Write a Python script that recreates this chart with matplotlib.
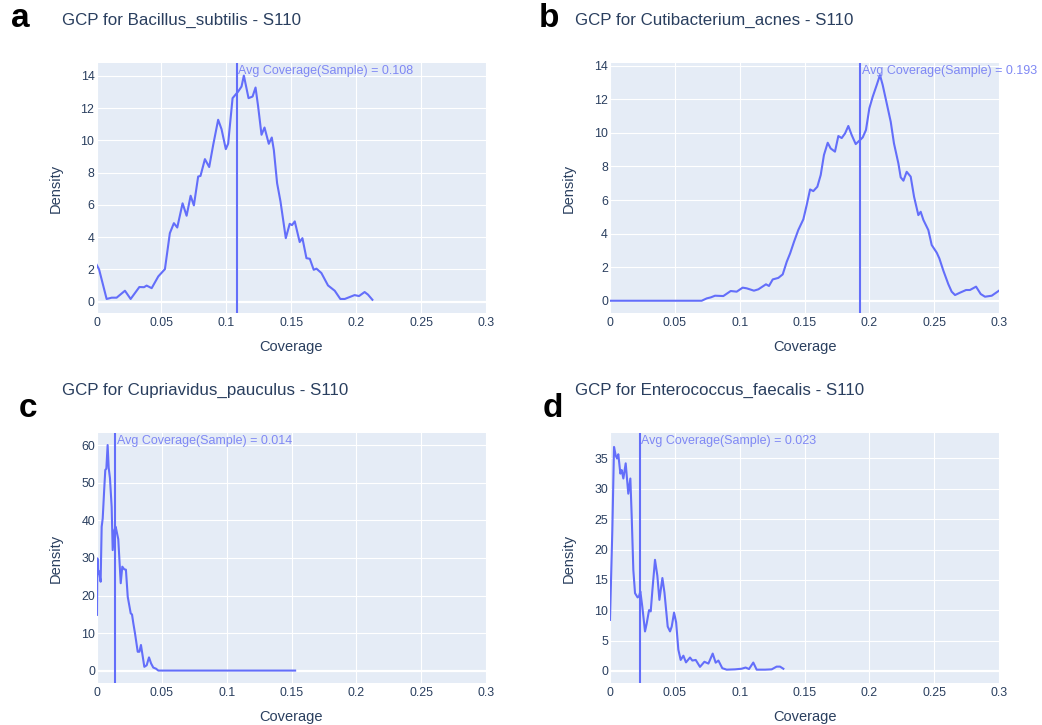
import matplotlib.pyplot as plt

W, H = 1042, 725
plt.rcParams['font.family'] = ['Liberation Sans', 'DejaVu Sans']

LINE = '#636efa'
BG = '#e5ecf6'
TXT = '#2a3f5f'
ANN = '#7f88f4'

# a - Bacillus_subtilis
bs_cov = [0, 0.002, 0.0078, 0.0117, 0.0155, 0.0219, 0.0263, 0.033, 0.0366, 0.0386,
          0.0425, 0.0476, 0.0527, 0.0565, 0.0596, 0.0622, 0.0663, 0.0694, 0.0725, 0.075,
          0.0783, 0.0801, 0.0835, 0.0868, 0.0899, 0.0937, 0.0963, 0.0996, 0.1014, 0.1048,
          0.1091, 0.1117, 0.1135, 0.1171, 0.1202, 0.1225, 0.1245, 0.1271, 0.1294, 0.1327,
          0.135, 0.1366, 0.1391, 0.1417, 0.1458, 0.1488, 0.1506, 0.1527, 0.1565, 0.1586,
          0.1617, 0.1643, 0.1673, 0.1694, 0.1732, 0.1783, 0.1835, 0.1878, 0.1912, 0.1988,
          0.2022, 0.2065, 0.2091, 0.2125]
bs_dens = [2.3, 2.0, 0.17, 0.25, 0.25, 0.68, 0.17, 0.91, 0.9, 1.0,
           0.84, 1.57, 2.02, 4.25, 4.87, 4.6, 6.1, 5.33, 6.57, 5.97,
           7.76, 7.8, 8.84, 8.35, 9.73, 11.28, 10.7, 9.46, 9.8, 12.62,
           13.03, 13.34, 14.02, 12.62, 12.72, 13.28, 12.1, 10.35, 10.8, 9.79,
           10.18, 9.4, 7.35, 6.22, 3.94, 4.83, 4.75, 4.98, 3.7, 3.94,
           2.7, 2.66, 1.98, 2.05, 1.78, 1.01, 0.68, 0.17, 0.17, 0.41,
           0.35, 0.6, 0.44, 0.12]
bs_avg = 0.108

# b - Cutibacterium_acnes
ca_cov = [0, 0.0707, 0.0746, 0.0777, 0.081, 0.0874, 0.0931, 0.0977, 0.1023, 0.1054,
          0.111, 0.1144, 0.1203, 0.1226, 0.1255, 0.1298, 0.1332, 0.1363, 0.1389, 0.1419,
          0.1452, 0.1491, 0.1517, 0.1543, 0.1568, 0.1599, 0.1625, 0.165, 0.1679, 0.1702,
          0.1735, 0.1761, 0.1787, 0.1813, 0.1838, 0.1864, 0.1895, 0.1928, 0.1949, 0.1974,
          0.2, 0.2026, 0.2057, 0.2082, 0.2103, 0.2134, 0.2165, 0.219, 0.2224, 0.2242,
          0.2263, 0.2288, 0.2319, 0.2345, 0.2378, 0.2396, 0.2417, 0.2455, 0.2481, 0.252,
          0.254, 0.2571, 0.2609, 0.2635, 0.2661, 0.2699, 0.2746, 0.2776, 0.2823, 0.2859,
          0.2892, 0.2944, 0.3]
ca_dens = [0, 0, 0.14, 0.2, 0.3, 0.28, 0.58, 0.54, 0.78, 0.74,
           0.6, 0.68, 0.98, 0.88, 1.27, 1.36, 1.57, 2.32, 2.82, 3.51,
           4.21, 4.85, 5.7, 6.63, 6.53, 6.79, 7.49, 8.68, 9.41, 9.07,
           8.88, 9.81, 9.69, 9.97, 10.41, 9.87, 9.33, 9.57, 9.73, 10.17,
           11.46, 12.15, 12.85, 13.44, 12.85, 11.76, 10.66, 9.37, 8.18, 7.35,
           7.15, 7.68, 7.39, 6.19, 5.1, 5.3, 4.81, 4.21, 3.32, 2.86,
           2.52, 1.79, 0.99, 0.54, 0.34, 0.48, 0.64, 0.64, 0.84, 0.4,
           0.24, 0.3, 0.6]
ca_avg = 0.193

# c - Cupriavidus_pauculus
cp_cov = [0, 0.0003, 0.001, 0.0015, 0.0028, 0.0036, 0.0044, 0.0056, 0.0064, 0.0072,
          0.0082, 0.009, 0.01, 0.0113, 0.0121, 0.0134, 0.0144, 0.0164, 0.0183, 0.0195,
          0.021, 0.0223, 0.0237, 0.026, 0.027, 0.028, 0.0293, 0.0314, 0.0327, 0.0339,
          0.0352, 0.0365, 0.0383, 0.0401, 0.0417, 0.0434, 0.0455, 0.0473, 0.1528]
cp_dens = [14.9, 29.9, 25.9, 26.5, 23.7, 38.3, 40.5, 48.5, 53.4, 53.7,
           60.0, 54.0, 51.2, 43.6, 32.1, 37.4, 38.3, 35.0, 23.3, 27.7,
           27.0, 26.9, 19.7, 15.3, 15.0, 12.7, 10.0, 5.1, 5.1, 6.9,
           4.0, 1.1, 1.5, 3.6, 2.0, 0.9, 0.6, 0.1, 0.1]
cp_avg = 0.014

# d - Enterococcus_faecalis
ef_cov = [0, 0.0018, 0.0031, 0.0044, 0.0054, 0.0064, 0.008, 0.009, 0.0103, 0.0121,
          0.0141, 0.0157, 0.0167, 0.018, 0.0193, 0.0213, 0.0224, 0.0234, 0.0249, 0.027,
          0.0283, 0.0301, 0.0314, 0.0327, 0.0347, 0.0365, 0.0381, 0.0404, 0.042, 0.0445,
          0.0463, 0.0476, 0.0494, 0.051, 0.0527, 0.0545, 0.0566, 0.0586, 0.0617, 0.0635,
          0.0661, 0.0694, 0.0728, 0.0759, 0.0792, 0.0815, 0.0836, 0.0866, 0.09, 0.0964,
          0.1015, 0.1046, 0.1072, 0.1105, 0.1131, 0.1196, 0.1247, 0.1285, 0.1311, 0.1337]
ef_dens = [8.4, 23.2, 36.9, 35.5, 35.0, 35.7, 32.5, 33.1, 31.7, 34.2,
           29.2, 31.7, 25.7, 16.6, 12.8, 12.1, 12.3, 13.1, 10.6, 6.5,
           7.8, 10.0, 9.8, 13.3, 18.3, 15.7, 11.7, 15.3, 12.9, 7.3,
           6.5, 7.3, 9.6, 8.0, 3.5, 1.8, 2.5, 1.4, 2.2, 1.7,
           1.8, 0.66, 1.5, 1.2, 2.85, 1.35, 1.7, 0.44, 0.2, 0.25,
           0.35, 0.55, 0.3, 1.37, 0.2, 0.2, 0.25, 0.7, 0.7, 0.35]
ef_avg = 0.023

panels = [
    ('a', 'Bacillus_subtilis', bs_cov, bs_dens, bs_avg, (96.5, 63, 486, 313), (-0.7, 14.8), range(0, 15, 2)),
    ('b', 'Cutibacterium_acnes', ca_cov, ca_dens, ca_avg, (610, 63, 999, 313), (-0.73, 14.16), range(0, 15, 2)),
    ('c', 'Cupriavidus_pauculus', cp_cov, cp_dens, cp_avg, (97, 433, 486, 683), (-3.2, 63.2), range(0, 61, 10)),
    ('d', 'Enterococcus_faecalis', ef_cov, ef_dens, ef_avg, (610, 433, 999, 683), (-2, 39.2), range(0, 36, 5)),
]
# title / letter placement (pixels)
title_pos = {'a': (62, 24.5), 'b': (575, 24.5), 'c': (62, 394.5), 'd': (575, 394.5)}
letter_pos = {'a': (11, 27), 'b': (539, 27), 'c': (19, 417), 'd': (543, 417)}
xticks = [0, 0.05, 0.1, 0.15, 0.2, 0.25, 0.3]
xticklabels = ['0', '0.05', '0.1', '0.15', '0.2', '0.25', '0.3']

fig = plt.figure(figsize=(W / 100, H / 100), dpi=100)


def fx(x):
    return x / W


def fy(y):
    return 1 - y / H


for letter, name, cov, dens, avg, box, ylim, yt in panels:
    l, t, r, b = box
    ax = fig.add_axes([fx(l), fy(b), (r - l) / W, (b - t) / H])
    ax.set_facecolor(BG)
    for s in ax.spines.values():
        s.set_visible(False)
    ax.set_xlim(0, 0.3)
    ax.set_ylim(*ylim)
    ax.set_xticks(xticks)
    ax.set_xticklabels(xticklabels)
    ax.set_yticks(list(yt))
    ax.tick_params(length=0, labelsize=8.9, labelcolor=TXT)
    ax.tick_params(axis='y', pad=1.5)
    ax.tick_params(axis='x', pad=3)
    ax.grid(True, color='white', lw=0.8)
    ax.set_axisbelow(True)
    ax.axhline(0, color='white', lw=1.6, zorder=1)
    ax.plot(cov, dens, color=LINE, lw=1.5, zorder=3)
    ax.axvline(avg, color=LINE, lw=1.5, zorder=4)
    ax.annotate('Avg Coverage(Sample) = %g' % avg, xy=(avg, 1),
                xycoords=('data', 'axes fraction'), xytext=(1, -1.5),
                textcoords='offset points', ha='left', va='top',
                fontsize=9, color=ANN, annotation_clip=False)

    cx = (l + r) / 2
    fig.text(fx(cx), fy(b + 34), 'Coverage', ha='center', va='center',
             fontsize=10.5, color=TXT)
    fig.text(fx(l - 41), fy((t + b) / 2), 'Density', ha='center', va='center',
             rotation=90, fontsize=10.5, color=TXT)
    tx, ty = title_pos[letter]
    fig.text(fx(tx), fy(ty), 'GCP for %s - S110' % name, ha='left',
             va='baseline', fontsize=12.2, color=TXT)
    lx, ly = letter_pos[letter]
    fig.text(fx(lx), fy(ly), letter, ha='left', va='baseline',
             fontsize=24, fontweight='bold', color='black')

fig.savefig('out.png', dpi=100)
